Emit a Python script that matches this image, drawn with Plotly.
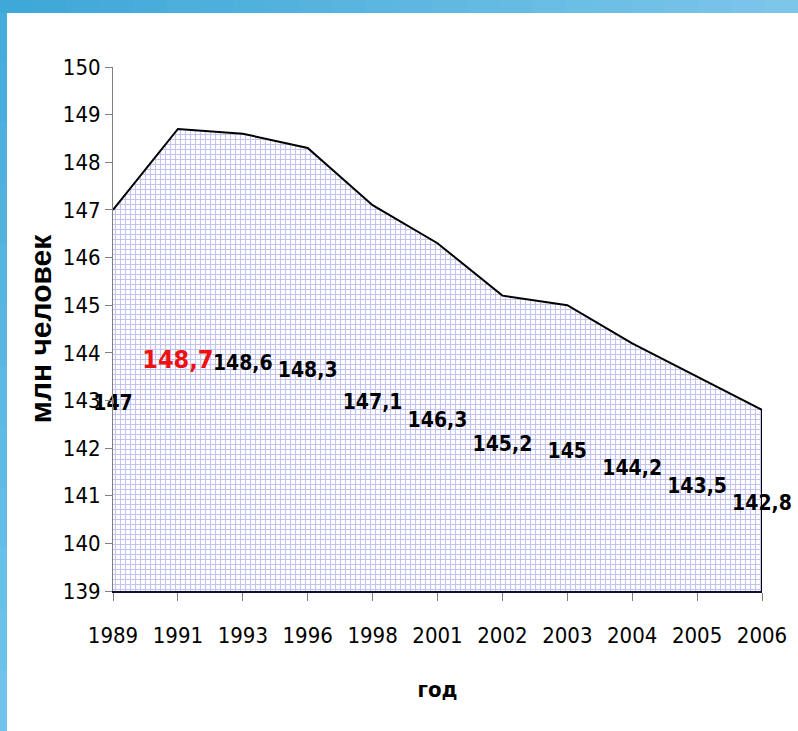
import plotly.graph_objects as go

years = ["1989", "1991", "1993", "1996", "1998", "2001", "2002", "2003", "2004", "2005", "2006"]
population = [147, 148.7, 148.6, 148.3, 147.1, 146.3, 145.2, 145, 144.2, 143.5, 142.8]
label_texts = ["147", "148,7", "148,6", "148,3", "147,1", "146,3", "145,2", "145", "144,2", "143,5", "142,8"]
# vertical placement of the value labels (data units), as in the original slide
label_y = [142.9, 143.82, 143.76, 143.6, 142.93, 142.55, 142.05, 141.9, 141.54, 141.17, 140.82]
highlight_index = 1

y_min, y_max = 139, 150

W, H = 798, 731
L, R, T, B = 113, 36, 67, 140
PW, PH = W - L - R, H - T - B

narrow = "DejaVu Sans Condensed, DejaVu Sans, sans-serif"

fig = go.Figure()

fig.add_trace(go.Scatter(
    x=years, y=population, mode="lines",
    line=dict(color="black", width=2),
    fill="tozeroy",
    fillcolor="rgba(0,0,0,0)",
    fillpattern=dict(shape="+", size=5, solidity=0.4, fgcolor="#8888e6", bgcolor="white"),
    hoverinfo="skip", showlegend=False,
))
# right edge of the area
fig.add_trace(go.Scatter(
    x=[years[-1], years[-1]], y=[population[-1], y_min], mode="lines",
    line=dict(color="black", width=2), hoverinfo="skip", showlegend=False,
))
# value labels
fig.add_trace(go.Scatter(
    x=years, y=label_y, mode="text",
    text=["<b>%s</b>" % t for t in label_texts],
    textposition="middle center",
    textfont=dict(
        family=narrow,
        size=[25 if i == highlight_index else 21 for i in range(len(years))],
        color=["#ee1111" if i == highlight_index else "black" for i in range(len(years))],
    ),
    cliponaxis=False, hoverinfo="skip", showlegend=False,
))

# slide decoration: blue frame strips
def px_x(p):
    return (p - L) / PW

def px_y(p):
    return 1 - (p - T) / PH

n = 24
c0, c1 = (62, 168, 216), (124, 198, 233)
for k in range(n):
    f = k / (n - 1)
    col = tuple(int(c0[j] + (c1[j] - c0[j]) * f) for j in range(3))
    fig.add_shape(type="rect", xref="paper", yref="paper",
                  x0=px_x(W * k / n), x1=px_x(W * (k + 1) / n + 1),
                  y0=px_y(13), y1=px_y(0),
                  fillcolor="rgb(%d,%d,%d)" % col, line_width=0, layer="above")
m = 12
d0, d1 = (70, 172, 220), (112, 196, 234)
for k in range(m):
    f = k / (m - 1)
    col = tuple(int(d0[j] + (d1[j] - d0[j]) * f) for j in range(3))
    fig.add_shape(type="rect", xref="paper", yref="paper",
                  x0=px_x(0), x1=px_x(7),
                  y0=px_y(H * (k + 1) / m + 1), y1=px_y(max(13, H * k / m)),
                  fillcolor="rgb(%d,%d,%d)" % col, line_width=0, layer="above")

fig.update_layout(
    width=W, height=H,
    margin=dict(l=L, r=R, t=T, b=B),
    paper_bgcolor="white", plot_bgcolor="white",
    showlegend=False,
    xaxis=dict(
        type="category", range=[0, len(years) - 1],
        showgrid=False, zeroline=False, automargin=False,
        showline=True, linecolor="#101030", linewidth=2,
        ticks="outside", ticklen=8, tickcolor="#808080", tickwidth=1,
        tickangle=0,
        tickfont=dict(family=narrow, size=22, color="black"),
        ticklabelstandoff=16,
        title=dict(text="<b>год</b>", font=dict(family=narrow, size=22, color="black"), standoff=34),
    ),
    yaxis=dict(
        range=[y_min, y_max], dtick=1,
        showgrid=False, zeroline=False, automargin=False,
        showline=True, linecolor="#808080", linewidth=1,
        ticks="outside", ticklen=7, tickcolor="#808080",
        tickfont=dict(family=narrow, size=22, color="black"),
        title=dict(text="<b>млн человек</b>", font=dict(family="Liberation Sans, Arial, sans-serif", size=30, color="black"), standoff=2),
    ),
)

fig.write_html("out.html", config={"displayModeBar": False},
               post_script="document.body.style.margin='0';document.body.style.overflow='hidden';")
